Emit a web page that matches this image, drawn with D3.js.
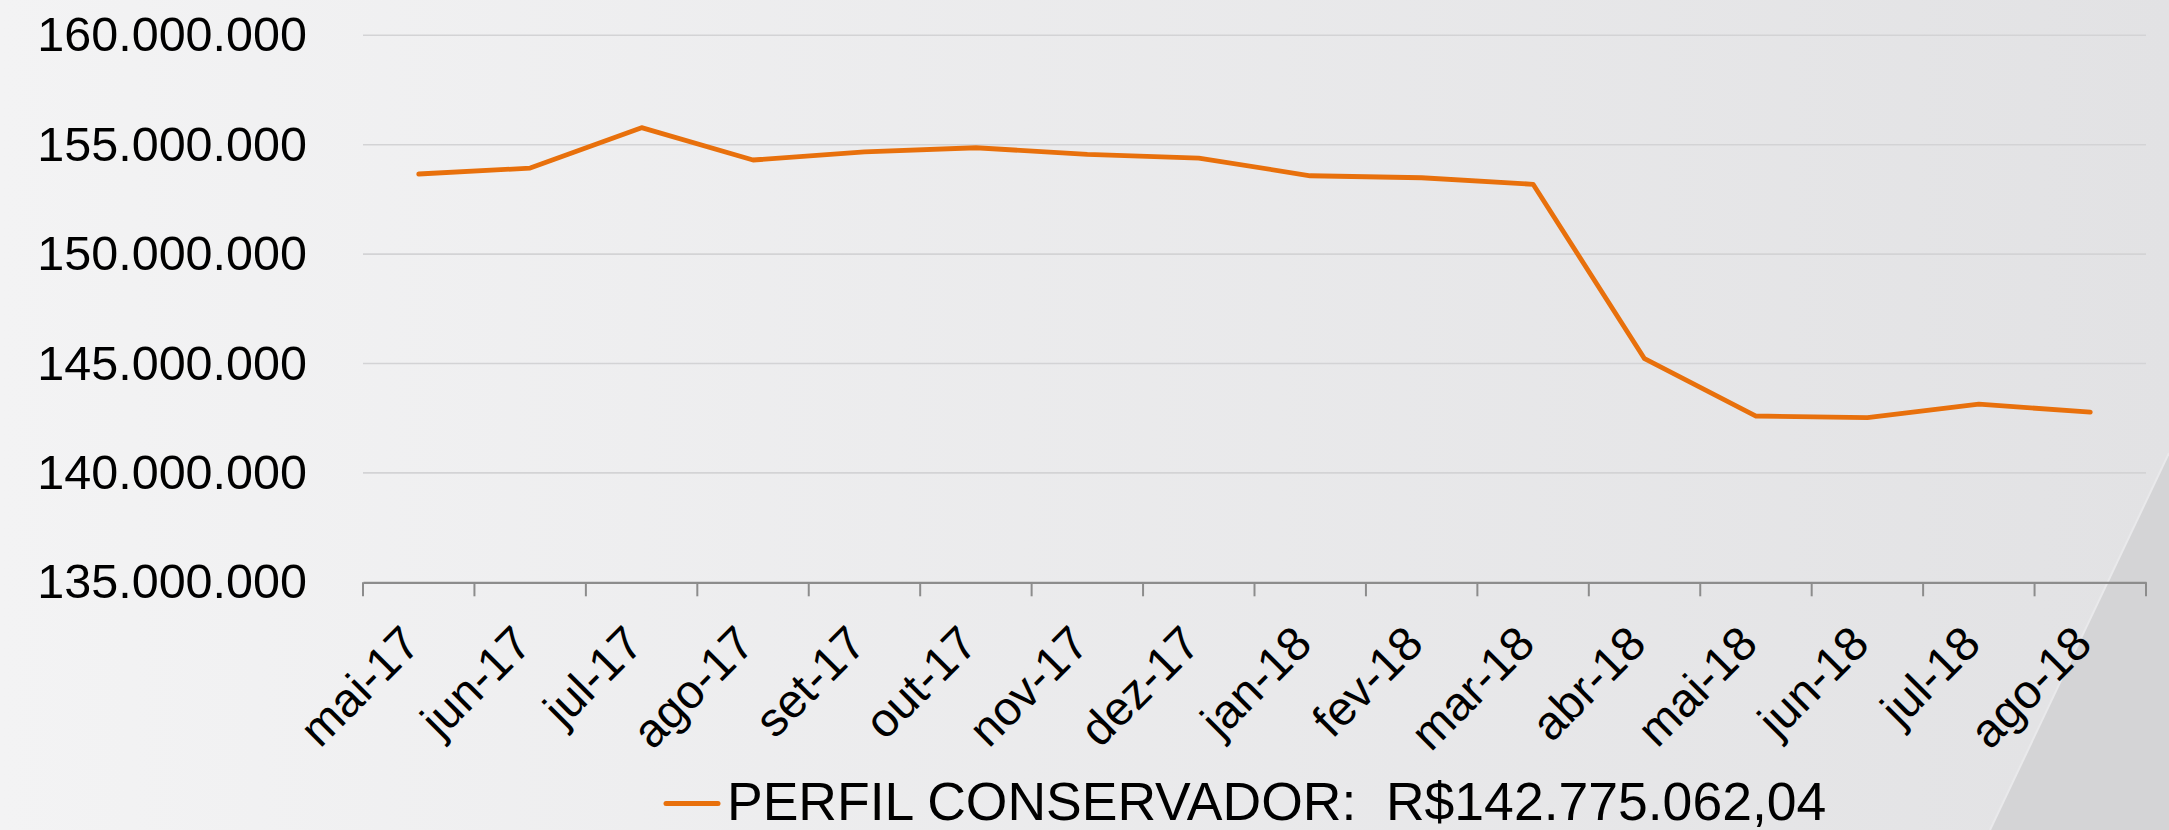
<!DOCTYPE html>
<html>
<head>
<meta charset="utf-8">
<script src="https://cdn.jsdelivr.net/npm/d3@7"></script>
<style>
  html, body { margin: 0; padding: 0; overflow: hidden; }
  text { font-family: "Liberation Sans", Arial, sans-serif; fill: #000; }
</style>
</head>
<body>
<div id="chart"></div>
<script>
const svgWidth = 2169;
const svgHeight = 830;

// data
const months = ["mai-17", "jun-17", "jul-17", "ago-17", "set-17", "out-17", "nov-17", "dez-17",
  "jan-18", "fev-18", "mar-18", "abr-18", "mai-18", "jun-18", "jul-18", "ago-18"];
const conservador = [153660000, 153930000, 155780000, 154300000, 154670000, 154860000, 154560000, 154390000,
  153580000, 153490000, 153190000, 145220000, 142600000, 142530000, 143140000, 142775062.04];
const yTicks = [135000000, 140000000, 145000000, 150000000, 155000000, 160000000];
const legendLabel = "PERFIL CONSERVADOR:  R$142.775.062,04";

const plot = { left: 363, right: 2146, top: 35.3, bottom: 582.3 };

const svg = d3.select("#chart")
  .append("svg")
  .attr("width", svgWidth)
  .attr("height", svgHeight);

// background
const defs = svg.append("defs");
const bg = defs.append("linearGradient").attr("id", "bg").attr("x1", 0).attr("x2", 1).attr("y1", 0).attr("y2", 0);
bg.append("stop").attr("offset", "0%").attr("stop-color", "#f3f3f4");
bg.append("stop").attr("offset", "100%").attr("stop-color", "#e2e2e4");

svg.append("rect").attr("width", svgWidth).attr("height", svgHeight).attr("fill", "url(#bg)");
svg.append("path")
  .attr("d", `M2169,453 L1990,830 L2169,830 Z`)
  .attr("fill", "#d4d4d6");
svg.append("path")
  .attr("d", `M2169,453 L1990,830`)
  .attr("stroke", "#e9e9eb")
  .attr("stroke-width", 2)
  .attr("fill", "none");

const x = d3.scaleBand()
  .domain(months)
  .range([plot.left, plot.right]);

const y = d3.scaleLinear()
  .domain([135000000, 160000000])
  .range([plot.bottom, plot.top]);

const fmt = d => d3.format(",")(d).replace(/,/g, ".");

// gridlines
svg.append("g")
  .selectAll("line")
  .data(yTicks.filter(d => d > 135000000))
  .join("line")
  .attr("x1", plot.left)
  .attr("x2", plot.right)
  .attr("y1", d => y(d))
  .attr("y2", d => y(d))
  .attr("stroke", "#d3d3d5")
  .attr("stroke-width", 1.6);

// y axis labels
const yAxis = svg.append("g")
  .attr("transform", `translate(${plot.left},0)`)
  .call(d3.axisLeft(y).tickValues(yTicks).tickFormat(fmt).tickSize(0).tickPadding(56));
yAxis.select(".domain").remove();
yAxis.selectAll("text")
  .attr("font-size", 48.5)
  .attr("font-family", "Liberation Sans, Arial, sans-serif")
  .attr("fill", "#000");

// x axis
const xAxis = svg.append("g")
  .attr("transform", `translate(0,${plot.bottom})`)
  .call(d3.axisBottom(x).tickSize(0).tickFormat(""));
xAxis.select(".domain").attr("stroke", "#8c8c8c").attr("stroke-width", 2.2);
xAxis.selectAll(".tick").remove();

const edges = months.map(m => x(m)).concat([plot.right]);
xAxis.selectAll("line.edge")
  .data(edges)
  .join("line")
  .attr("class", "edge")
  .attr("x1", d => d)
  .attr("x2", d => d)
  .attr("y1", 0)
  .attr("y2", 14)
  .attr("stroke", "#8c8c8c")
  .attr("stroke-width", 2);

svg.append("g")
  .selectAll("text")
  .data(months)
  .join("text")
  .attr("transform", d => `translate(${x(d) + x.bandwidth() / 2 + 4},${plot.bottom + 64}) rotate(-45)`)
  .attr("text-anchor", "end")
  .attr("font-size", 47.5)
  .text(d => d);

// line
const line = d3.line()
  .x((d, i) => x(months[i]) + x.bandwidth() / 2)
  .y(d => y(d));

svg.append("path")
  .datum(conservador)
  .attr("d", line)
  .attr("fill", "none")
  .attr("stroke", "#e8700c")
  .attr("stroke-width", 4.8)
  .attr("stroke-linejoin", "round")
  .attr("stroke-linecap", "round");

// legend
const legend = svg.append("g");
legend.append("line")
  .attr("x1", 666).attr("x2", 718)
  .attr("y1", 803.5).attr("y2", 803.5)
  .attr("stroke", "#e8700c")
  .attr("stroke-width", 5)
  .attr("stroke-linecap", "round");
legend.append("text")
  .attr("x", 727)
  .attr("y", 820)
  .attr("font-size", 53.5)
  .style("white-space", "pre")
  .text(legendLabel);
</script>
</body>
</html>
